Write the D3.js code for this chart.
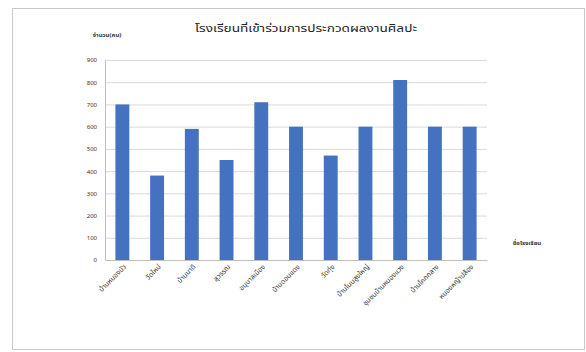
<!DOCTYPE html>
<html><head><meta charset="utf-8">
<script src="https://cdn.jsdelivr.net/npm/d3@7"></script>
<style>
body{margin:0;background:#fff;}
text{font-family:"Noto Sans Thai","Tahoma","DejaVu Sans",sans-serif;}
</style></head>
<body><svg id="c" width="586" height="352"></svg>
<script>
const categories = ["บ้านหนองบัว","วัดใหม่","บ้านนาดี","สุวรรณ","อนุบาลเมือง","บ้านดอนแดง","วัดทุ่ง","บ้านโนนสูงใหญ่","ชุมชนบ้านหนองแวง","บ้านโคกกลาง","หนองหญ้าปล้อง"];
const values = [700, 380, 590, 450, 710, 600, 470, 600, 810, 600, 600];
const yTicks = [0,100,200,300,400,500,600,700,800,900];
const titleText = "โรงเรียนที่เข้าร่วมการประกวดผลงานศิลปะ";
const yTitle = "จำนวน(คน)";
const xTitle = "ชื่อโรงเรียน";

const svg = d3.select("#c");
svg.append("rect").attr("x",12.5).attr("y",8.5).attr("width",572).attr("height",341)
  .attr("fill","#fff").attr("stroke","#c8c8c8");

const m = {l:105, r:487, t:60, b:260};
const x = d3.scaleBand().domain(categories).range([m.l, m.r]).paddingInner(0.6).paddingOuter(0.3);
const y = d3.scaleLinear().domain([0,900]).range([m.b, m.t]);

svg.append("g").selectAll("line").data(yTicks.filter(d=>d>0)).join("line")
  .attr("x1",m.l).attr("x2",m.r).attr("y1",d=>y(d)+0.5).attr("y2",d=>y(d)+0.5)
  .attr("stroke","#d9d9d9");

svg.append("g").selectAll("rect").data(values).join("rect")
  .attr("x",(d,i)=>x(categories[i])).attr("width",x.bandwidth())
  .attr("y",d=>y(d)).attr("height",d=>m.b-y(d)).attr("fill","#4472c0");

const ya = svg.append("g").attr("transform",`translate(${m.l},0)`)
  .call(d3.axisLeft(y).tickValues(yTicks).tickSize(0).tickPadding(8));
ya.select(".domain").attr("stroke","#bfbfbf");
ya.selectAll("text").attr("font-size",6).attr("fill","#333");

const xa = svg.append("g").attr("transform",`translate(0,${m.b})`)
  .call(d3.axisBottom(x).tickSize(0).tickPadding(4));
xa.select(".domain").attr("stroke","#bfbfbf");
xa.selectAll("text").attr("font-size",7).attr("fill","#333")
  .attr("text-anchor","end").attr("transform","rotate(-45)").attr("dx","-0.3em").attr("dy","0.6em");

svg.append("text").attr("x",306).attr("y",32).attr("text-anchor","middle")
  .attr("font-size",10).attr("fill","#222")
  .attr("textLength",222).attr("lengthAdjust","spacingAndGlyphs").text(titleText);
svg.append("text").attr("x",107).attr("y",37).attr("text-anchor","middle")
  .attr("font-size",6).attr("font-weight","bold").attr("fill","#333").text(yTitle);
svg.append("text").attr("x",527).attr("y",245).attr("text-anchor","middle")
  .attr("font-size",6).attr("font-weight","bold").attr("fill","#333").text(xTitle);
</script></body></html>
